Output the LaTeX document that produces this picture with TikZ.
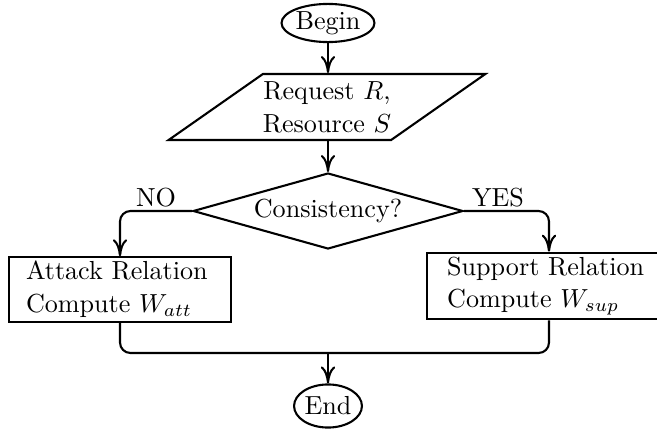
\documentclass[tikz,border=0pt]{standalone}
\usepackage{amsmath,amssymb}
\usepackage{tikz}
\usetikzlibrary{shapes.geometric,arrows.meta}
\tikzset{
  term/.style={ellipse, draw, thick, inner sep=0pt},
  io/.style={trapezium, trapezium left angle=35, trapezium right angle=145,
    draw, thick, align=center, inner xsep=0pt, inner ysep=2.8pt},
  decision/.style={diamond, aspect=3.55, draw, thick, inner sep=0pt,
    minimum width=103.4pt, minimum height=29.1pt},
  process/.style={rectangle, draw, thick, align=left, inner ysep=1.5pt,
    minimum height=24.5pt},
  arr/.style={thick, -{To[length=6.5pt,width=5.5pt]}, rounded corners},
  link/.style={thick, rounded corners},
  lab/.style={above, inner sep=1pt},
}

\begin{document}
\begin{tikzpicture}[x=0.383pt, y=-0.383pt]
  \useasboundingbox (0,0) rectangle (657,434);

  \node[term, minimum width=35.6pt, minimum height=14.6pt] (start) at (328,23) {Begin};
  \node[io] (req) at (327,107) {Request $R$,\\[0.6pt]Resource $S$};
  \node[decision] (cons) at (328,211) {Consistency?};
  \node[process, text width=72pt, inner xsep=6.5pt] (att) at (120,289.5)
    {Attack Relation\\[0.6pt]Compute $W_{att}$};   % NO branch
  \node[process, text width=78pt, inner xsep=7.7pt] (sup) at (549,286)
    {Support Relation\\[0.6pt]Compute $W_{sup}$};  % YES branch
  \node[term, minimum width=26pt, minimum height=16.5pt] (stop) at (328,406) {End};
  \coordinate (join) at (328,353);                 % branches meet here

  \draw[arr] (start) -- (start |- req.north);
  \draw[arr] (req.south -| cons) -- (cons);
  \draw[arr] (cons.west) -| node[lab, pos=0.25] {NO} (att.north);
  \draw[arr] (cons.east) -| node[lab, pos=0.2] {YES} (sup.north);
  \draw[link] (att.south) |- (join) -| (sup.south);
  \draw[arr] (join) -- (stop);
\end{tikzpicture}
\end{document}
